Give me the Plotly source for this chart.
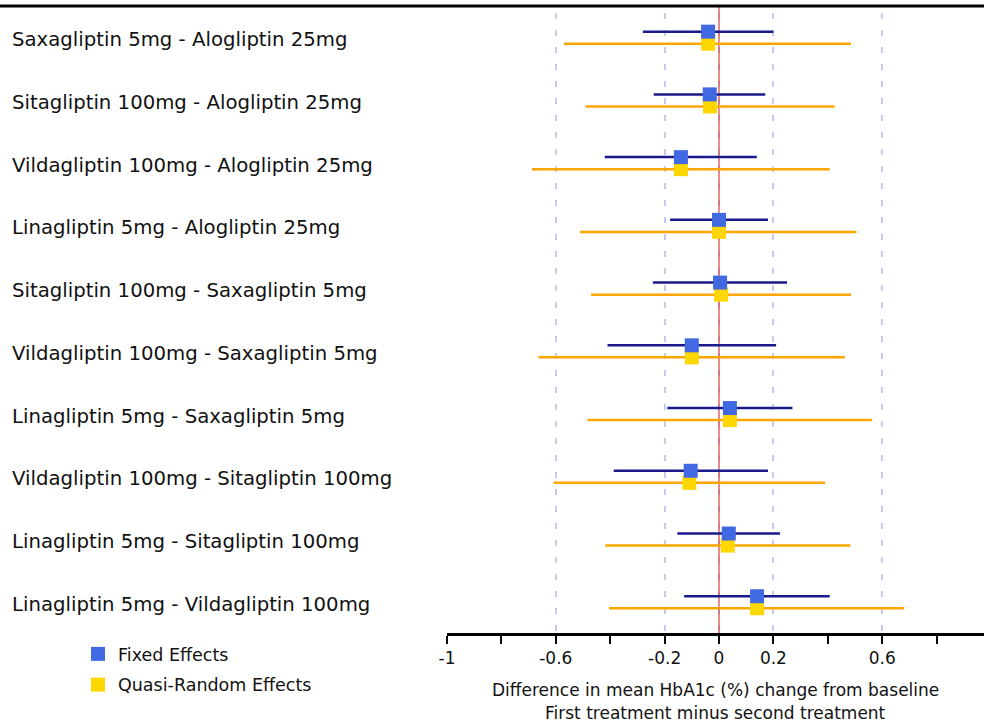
import plotly.graph_objects as go

labels = [
    "Saxagliptin 5mg - Alogliptin 25mg",
    "Sitagliptin 100mg - Alogliptin 25mg",
    "Vildagliptin 100mg - Alogliptin 25mg",
    "Linagliptin 5mg - Alogliptin 25mg",
    "Sitagliptin 100mg - Saxagliptin 5mg",
    "Vildagliptin 100mg - Saxagliptin 5mg",
    "Linagliptin 5mg - Saxagliptin 5mg",
    "Vildagliptin 100mg - Sitagliptin 100mg",
    "Linagliptin 5mg - Sitagliptin 100mg",
    "Linagliptin 5mg - Vildagliptin 100mg",
]
fixed_est = [-0.04, -0.034, -0.14, 0.0, 0.004, -0.10, 0.04, -0.104, 0.036, 0.14]
fixed_lo = [-0.28, -0.24, -0.42, -0.18, -0.243, -0.41, -0.19, -0.387, -0.153, -0.128]
fixed_hi = [0.20, 0.17, 0.139, 0.18, 0.25, 0.21, 0.27, 0.18, 0.224, 0.407]
rand_est = [-0.04, -0.033, -0.14, 0.0, 0.008, -0.10, 0.04, -0.109, 0.032, 0.14]
rand_lo = [-0.57, -0.49, -0.6875, -0.51, -0.47, -0.664, -0.484, -0.608, -0.418, -0.404]
rand_hi = [0.485, 0.425, 0.407, 0.505, 0.485, 0.463, 0.563, 0.39, 0.483, 0.681]

major_ticks = [-1, -0.6, -0.2, 0, 0.2, 0.6]
major_text = ["-1", "-0.6", "-0.2", "0", "0.2", "0.6"]
minor_ticks = [-0.8, -0.4, 0.4, 0.8]
null_value = 0
title_lines = ["Difference in mean HbA1c (%) change from baseline",
               "First treatment minus second treatment"]

FONT = "DejaVu Sans, Liberation Sans, Arial, sans-serif"
rows = list(range(len(labels)))
off = 0.096
Y_RANGE = [9.49, -0.505]

fig = go.Figure()

# reference line of no difference (drawn first: above gridlines, below markers)
fig.add_trace(go.Scatter(
    x=[null_value, null_value], y=Y_RANGE, mode="lines", showlegend=False,
    hoverinfo="skip", line=dict(color="#d9413f", width=1.2),
))

fig.add_trace(go.Scatter(
    x=rand_est, y=[r + off for r in rows], mode="markers",
    name="Quasi-Random Effects", legendrank=2, legendgroup="r",
    marker=dict(symbol="square", size=14, color="#FFD700"),
    error_x=dict(type="data", symmetric=False,
                 array=[h - e for h, e in zip(rand_hi, rand_est)],
                 arrayminus=[e - l for e, l in zip(rand_est, rand_lo)],
                 color="#FFA500", thickness=2.5, width=0),
))
fig.add_trace(go.Scatter(
    x=fixed_est, y=[r - off for r in rows], mode="markers",
    name="Fixed Effects", legendrank=1, legendgroup="f",
    marker=dict(symbol="square", size=14, color="#4169E1"),
    error_x=dict(type="data", symmetric=False,
                 array=[h - e for h, e in zip(fixed_hi, fixed_est)],
                 arrayminus=[e - l for e, l in zip(fixed_est, fixed_lo)],
                 color="#1a1a8c", thickness=2.5, width=0),
))

L = 447
W = 984 - L
for r, lab in zip(rows, labels):
    fig.add_annotation(text=lab, xref="paper", yref="y", x=(10 - L) / W, y=r,
                       xanchor="left", yanchor="middle", showarrow=False, yshift=-2,
                       font=dict(family=FONT, size=19.7, color="#111111"))

for i, t in enumerate(title_lines):
    fig.add_annotation(text=t, xref="paper", yref="paper", x=0.5, y=0, yshift=-57 - 23 * i,
                       xanchor="center", yanchor="middle", showarrow=False,
                       font=dict(family=FONT, size=17, color="#111111"))

fig.add_shape(type="line", xref="paper", yref="paper", x0=-L / W, x1=1, y0=1, y1=1,
              line=dict(color="black", width=3))

fig.update_layout(
    width=984, height=724,
    margin=dict(l=L, r=0, t=6, b=91),
    paper_bgcolor="white", plot_bgcolor="white",
    font=dict(family=FONT, size=17, color="#111111"),
    showlegend=True,
    legend=dict(xref="container", yref="container", x=78 / 984, y=(724 - 636) / 724,
                xanchor="left", yanchor="top", traceorder="grouped", tracegroupgap=5,
                font=dict(family=FONT, size=17.5, color="#111111"), bgcolor="rgba(0,0,0,0)"),
    xaxis=dict(range=[-1, (984 - 719) / 272], tickvals=major_ticks, ticktext=major_text,
               ticks="outside", ticklen=8, tickwidth=2, tickcolor="black",
               showline=True, linecolor="black", linewidth=2.5,
               showgrid=True, gridcolor="#c8c8f5", gridwidth=2, griddash="0px,7px,6px,4px",
               zeroline=False, tickfont=dict(family=FONT, size=17, color="#111111"),
               minor=dict(tickvals=minor_ticks, ticks="outside", ticklen=8, tickwidth=2,
                          tickcolor="black", showgrid=False),
               fixedrange=True),
    yaxis=dict(range=Y_RANGE, showticklabels=False, showgrid=False, zeroline=False,
               showline=False, ticks="", fixedrange=True),
)

fig.write_html("out.html", config={"displayModeBar": False},
               post_script="document.body.style.margin='0px';document.body.style.overflow='hidden';")
